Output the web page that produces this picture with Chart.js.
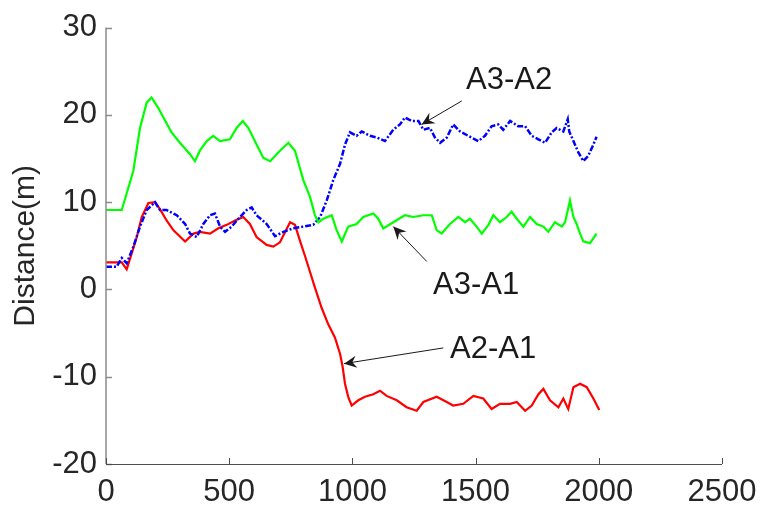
<!DOCTYPE html>
<html lang="en">
<head>
<meta charset="UTF-8">
<title>Distance</title>
<style>
    html, body { margin: 0; padding: 0; background: #fff; overflow: hidden; }
    canvas { display: block; }
</style>
</head>
<body>
<canvas id="dist" width="761" height="511"></canvas>
<script src="https://cdn.jsdelivr.net/npm/chart.js"></script>
<script>
    // A3-A1 (green)
    const a31X = [0, 64, 111, 138, 165, 185, 212, 233, 266, 300, 341, 361, 381, 409, 435, 463, 503, 530, 555, 578, 611, 638, 666, 706, 740, 767, 801, 828, 848, 862, 882, 916, 936, 957, 983, 1017, 1044, 1085, 1105, 1125, 1166, 1213, 1247, 1288, 1322, 1342, 1362, 1396, 1430, 1457, 1477, 1504, 1525, 1552, 1572, 1599, 1626, 1646, 1667, 1694, 1721, 1748, 1775, 1795, 1822, 1850, 1863, 1883, 1897, 1910, 1924, 1937, 1964, 1991];
    const a31Y = [9.1, 9.1, 13.6, 18.5, 21.4, 22.0, 20.8, 19.7, 18.0, 16.8, 15.5, 14.7, 15.9, 17.0, 17.6, 17.0, 17.2, 18.5, 19.3, 18.5, 16.6, 15.1, 14.7, 15.9, 16.8, 15.9, 12.5, 10.6, 8.5, 7.7, 8.1, 8.5, 6.8, 5.5, 7.2, 7.5, 8.3, 8.7, 8.1, 7.0, 7.7, 8.5, 8.3, 8.5, 8.5, 6.8, 6.4, 7.5, 8.3, 7.7, 8.1, 7.2, 6.4, 7.4, 8.5, 7.7, 8.3, 8.9, 8.1, 7.2, 8.3, 7.5, 7.2, 6.6, 7.7, 7.2, 7.7, 10.2, 8.3, 7.5, 6.4, 5.5, 5.3, 6.4];

    // A3-A2 (blue, dash-dot)
    const a32X = [0, 43, 64, 84, 111, 138, 165, 199, 219, 246, 287, 321, 341, 368, 395, 422, 442, 463, 483, 510, 537, 571, 591, 611, 652, 686, 720, 760, 801, 841, 869, 896, 922, 950, 970, 990, 1017, 1038, 1071, 1099, 1132, 1166, 1193, 1213, 1241, 1268, 1288, 1315, 1335, 1356, 1383, 1409, 1437, 1470, 1511, 1538, 1565, 1592, 1612, 1640, 1673, 1701, 1728, 1755, 1782, 1809, 1829, 1856, 1874, 1880, 1897, 1917, 1937, 1957, 1978, 1991];
    const a32Y = [2.6, 2.6, 3.6, 3.0, 4.9, 7.2, 9.1, 10.0, 9.1, 9.1, 8.5, 7.5, 6.4, 6.0, 7.5, 8.5, 8.7, 7.2, 6.6, 7.2, 8.1, 9.1, 9.4, 8.5, 7.5, 6.1, 6.6, 7.0, 7.2, 7.4, 8.3, 10.2, 12.5, 14.4, 16.6, 18.0, 17.6, 18.1, 17.6, 17.4, 17.0, 18.3, 18.9, 19.7, 19.3, 19.3, 18.3, 18.5, 17.4, 16.8, 17.4, 18.9, 18.1, 17.6, 17.0, 17.6, 18.7, 18.9, 18.3, 19.3, 18.7, 18.7, 17.6, 17.2, 16.8, 18.0, 18.5, 18.1, 19.5, 18.1, 17.0, 15.7, 14.7, 15.3, 16.6, 17.5];

    // A2-A1 (red)
    const a21X = [0, 64, 84, 104, 125, 145, 172, 199, 219, 246, 273, 321, 355, 381, 422, 456, 490, 524, 557, 584, 611, 652, 679, 706, 747, 767, 787, 808, 828, 848, 875, 902, 929, 950, 960, 970, 983, 997, 1024, 1051, 1085, 1112, 1139, 1180, 1220, 1261, 1288, 1342, 1383, 1409, 1450, 1491, 1531, 1565, 1599, 1640, 1667, 1701, 1728, 1755, 1775, 1802, 1836, 1856, 1876, 1897, 1924, 1951, 1978, 2002];
    const a21Y = [3.1, 3.1, 2.3, 4.1, 6.0, 8.3, 9.9, 10.0, 9.2, 7.9, 6.8, 5.5, 6.4, 6.6, 6.4, 7.0, 7.4, 7.9, 8.3, 7.5, 6.0, 5.1, 4.9, 5.4, 7.7, 7.4, 5.6, 3.8, 2.0, 0.2, -2.1, -4.0, -5.5, -7.4, -8.8, -10.8, -12.3, -13.3, -12.7, -12.3, -12.0, -11.6, -12.2, -12.7, -13.5, -13.9, -12.9, -12.3, -12.9, -13.3, -13.1, -12.2, -12.5, -13.7, -13.1, -13.1, -12.9, -13.9, -13.3, -12.0, -11.4, -12.7, -13.5, -12.5, -13.7, -11.2, -10.8, -11.2, -12.5, -13.8];

    const xTicks = [0, 500, 1000, 1500, 2000, 2500];
    const yTicks = [-20, -10, 0, 10, 20, 30];

    // labels: text, text position, arrow tail, arrow head (data units)
    const notes = [
        { text: 'A3-A2', tx: 1636, ty: 23.9, x0: 1444, y0: 21.6, x1: 1281, y1: 18.9 },
        { text: 'A3-A1', tx: 1502, ty: 0.45, x0: 1302, y0: 3.2, x1: 1166, y1: 7.2 },
        { text: 'A2-A1', tx: 1571, ty: -6.9, x0: 1369, y0: -6.7, x1: 966, y1: -8.5 }
    ];

    const pts = (xs, ys) => xs.map((x, i) => ({ x: x, y: ys[i] }));
    const FONT = "'Liberation Sans', Arial, sans-serif";

    // axis lines with inward ticks + arrow notes
    const extras = {
        id: 'extras',
        afterDatasetsDraw(chart) {
            const c = chart.ctx;
            const xs = chart.scales.x, ys = chart.scales.y;
            const a = chart.chartArea;
            c.save();
            // left axis
            c.strokeStyle = '#8c8c8c';
            c.lineWidth = 1.5;
            c.beginPath();
            c.moveTo(a.left, a.top);
            c.lineTo(a.left, a.bottom);
            yTicks.forEach(v => {
                const py = Math.round(ys.getPixelForValue(v)) + 0.5;
                c.moveTo(a.left, py);
                c.lineTo(a.left + 6, py);
            });
            c.stroke();
            // bottom axis
            c.strokeStyle = '#4d4d4d';
            c.lineWidth = 1;
            c.beginPath();
            c.moveTo(a.left, a.bottom + 0.5);
            c.lineTo(a.right, a.bottom + 0.5);
            xTicks.forEach(v => {
                const px = Math.round(xs.getPixelForValue(v)) + 0.5;
                c.moveTo(px, a.bottom);
                c.lineTo(px, a.bottom - 6);
            });
            c.stroke();

            // notes
            c.fillStyle = '#1a1a1a';
            c.strokeStyle = '#1a1a1a';
            c.font = '31px ' + FONT;
            c.textAlign = 'center';
            c.textBaseline = 'middle';
            notes.forEach(n => {
                c.fillText(n.text, xs.getPixelForValue(n.tx), ys.getPixelForValue(n.ty));
                const x0 = xs.getPixelForValue(n.x0), y0 = ys.getPixelForValue(n.y0);
                const x1 = xs.getPixelForValue(n.x1), y1 = ys.getPixelForValue(n.y1);
                const ang = Math.atan2(y1 - y0, x1 - x0);
                c.lineWidth = 1;
                c.beginPath();
                c.moveTo(x0, y0);
                c.lineTo(x1, y1);
                c.stroke();
                const L = 14, W = 0.45;
                c.beginPath();
                c.moveTo(x1, y1);
                c.lineTo(x1 - L * Math.cos(ang - W), y1 - L * Math.sin(ang - W));
                c.lineTo(x1 - L * 0.6 * Math.cos(ang), y1 - L * 0.6 * Math.sin(ang));
                c.lineTo(x1 - L * Math.cos(ang + W), y1 - L * Math.sin(ang + W));
                c.closePath();
                c.fill();
            });
            c.restore();
        }
    };

    const ctx = document.getElementById('dist');
    new Chart(ctx, {
        type: 'line',
        data: {
            datasets: [
                {
                    label: 'A3-A1',
                    data: pts(a31X, a31Y),
                    borderColor: '#00ff00',
                    borderWidth: 2.2
                },
                {
                    label: 'A3-A2',
                    data: pts(a32X, a32Y),
                    borderColor: '#0000ff',
                    borderWidth: 2.5,
                    borderDash: [6, 2, 2, 2]
                },
                {
                    label: 'A2-A1',
                    data: pts(a21X, a21Y),
                    borderColor: '#ff0000',
                    borderWidth: 2.2
                }
            ]
        },
        options: {
            responsive: false,
            animation: false,
            devicePixelRatio: 1,
            elements: {
                point: { radius: 0 },
                line: { tension: 0 }
            },
            layout: {
                padding: { left: 0, top: 24, right: 39, bottom: 0 }
            },
            plugins: {
                legend: { display: false },
                tooltip: { enabled: false }
            },
            scales: {
                x: {
                    type: 'linear',
                    min: 0,
                    max: 2500,
                    grid: { display: false, drawTicks: false },
                    border: { display: false },
                    ticks: {
                        stepSize: 500,
                        padding: 10,
                        maxRotation: 0,
                        autoSkip: false,
                        color: '#262626',
                        font: { size: 31, family: FONT },
                        callback: (v) => String(v)
                    },
                    afterFit: (s) => {
                        s.height = 47;
                        s.paddingLeft = 0;
                        s.paddingRight = 0;
                    }
                },
                y: {
                    min: -20,
                    max: 30,
                    grid: { display: false, drawTicks: false },
                    border: { display: false },
                    ticks: {
                        stepSize: 10,
                        padding: 9,
                        color: '#262626',
                        font: { size: 31, family: FONT }
                    },
                    title: {
                        display: true,
                        text: 'Distance(m)',
                        color: '#262626',
                        padding: { top: 8, bottom: 0 },
                        font: { size: 30, family: FONT }
                    },
                    afterFit: (s) => { s.width = 106; }
                }
            }
        },
        plugins: [extras]
    });
</script>
</body>
</html>
